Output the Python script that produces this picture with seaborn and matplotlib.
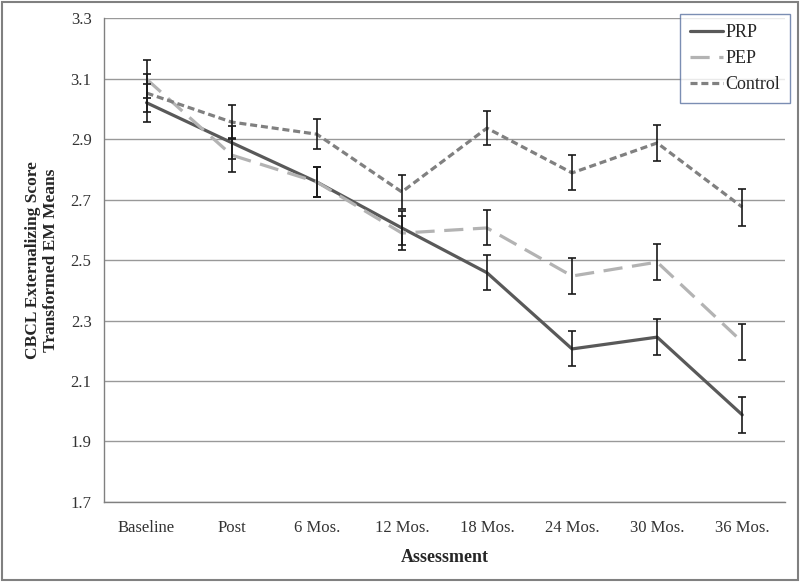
import matplotlib
matplotlib.use("Agg")
import matplotlib.pyplot as plt
import pandas as pd
import seaborn as sns
from matplotlib.patches import Rectangle

# dados
avaliacoes = ["Baseline", "Post", "6 Mos.", "12 Mos.", "18 Mos.", "24 Mos.", "30 Mos.", "36 Mos."]
grupos = ["PRP", "PEP", "Control"]

prp = [3.02, 2.888, 2.758, 2.606, 2.458, 2.206, 2.245, 1.988]
pep = [3.098, 2.847, 2.758, 2.589, 2.606, 2.447, 2.493, 2.229]
controle = [3.052, 2.956, 2.916, 2.725, 2.936, 2.788, 2.887, 2.675]

erro_prp = [0.063, 0.055, 0.051, 0.056, 0.058, 0.058, 0.06, 0.06]
erro_pep = [0.063, 0.056, 0.051, 0.056, 0.058, 0.058, 0.06, 0.06]
erro_controle = [0.063, 0.056, 0.05, 0.056, 0.056, 0.058, 0.06, 0.061]

y_ticks = [1.7, 1.9, 2.1, 2.3, 2.5, 2.7, 2.9, 3.1, 3.3]

dados = pd.DataFrame({
    "Assessment": avaliacoes * 3,
    "valor": prp + pep + controle,
    "erro": erro_prp + erro_pep + erro_controle,
    "grupo": [g for g in grupos for _ in avaliacoes],
})

sns.set_style("white")
plt.rcParams["font.family"] = ["Liberation Serif", "DejaVu Serif"]

fig = plt.figure(figsize=(8, 5.82), dpi=100)
ax = fig.add_axes([0.13, 0.1375, 0.851, 0.8315])

estilos = {
    "PRP": {"color": "#595959", "dashes": None},
    "PEP": {"color": "#b3b3b3", "dashes": (6, 3)},
    "Control": {"color": "#808080", "dashes": (2.2, 1.2)},
}

for grupo in grupos:
    sub = dados[dados["grupo"] == grupo]
    st = estilos[grupo]
    sns.lineplot(data=sub, x="Assessment", y="valor", ax=ax, color=st["color"],
                 lw=2.3, label=grupo, sort=False, zorder=3)
    if st["dashes"] is not None:
        ax.lines[-1].set_dashes(st["dashes"])
    ax.errorbar(range(len(avaliacoes)), sub["valor"], yerr=sub["erro"], fmt="none",
                ecolor="#1a1a1a", elinewidth=1.2, capsize=3, capthick=1.2, zorder=4)

ax.set_xlim(-0.5, len(avaliacoes) - 0.5)
ax.set_ylim(1.7, 3.3)
ax.set_yticks(y_ticks)
ax.set_yticklabels([f"{v:.1f}" for v in y_ticks], fontsize=12, color="#333333")
ax.set_xticks(range(len(avaliacoes)))
ax.set_xticklabels(avaliacoes, fontsize=12, color="#333333")
ax.set_xticks([i - 0.5 for i in range(len(avaliacoes) + 1)], minor=True)
ax.tick_params(axis="x", which="major", length=0, pad=13)
ax.tick_params(axis="x", which="minor", length=5, color="#808080", direction="out")
ax.tick_params(axis="y", length=5, color="#808080", direction="out", pad=4)

ax.grid(True, axis="y", color="#999999", lw=1)
ax.set_axisbelow(True)
for lado in ["top", "right"]:
    ax.spines[lado].set_visible(False)
for lado in ["left", "bottom"]:
    ax.spines[lado].set_color("#808080")
    ax.spines[lado].set_linewidth(1)

ax.set_xlabel("Assessment", fontsize=13, fontweight="bold", labelpad=9)
ax.set_ylabel("CBCL Externalizing Score\nTransformed EM Means", fontsize=12.5,
              fontweight="bold", labelpad=8)

leg = ax.legend(loc="upper right", bbox_to_anchor=(790 / 800, 1 - 14 / 582),
                bbox_transform=fig.transFigure, borderaxespad=0, fontsize=13,
                frameon=True, fancybox=False, handlelength=1.8, handletextpad=0.15,
                borderpad=0.55, labelspacing=0.5)
leg.get_frame().set_edgecolor("#5a72a0")
leg.get_frame().set_linewidth(1)

# moldura externa
fig.patches.append(Rectangle((0.003, 0.004), 0.994, 0.992, transform=fig.transFigure,
                             fill=False, edgecolor="#808080", lw=1.5))

fig.savefig("out.png", dpi=100)
